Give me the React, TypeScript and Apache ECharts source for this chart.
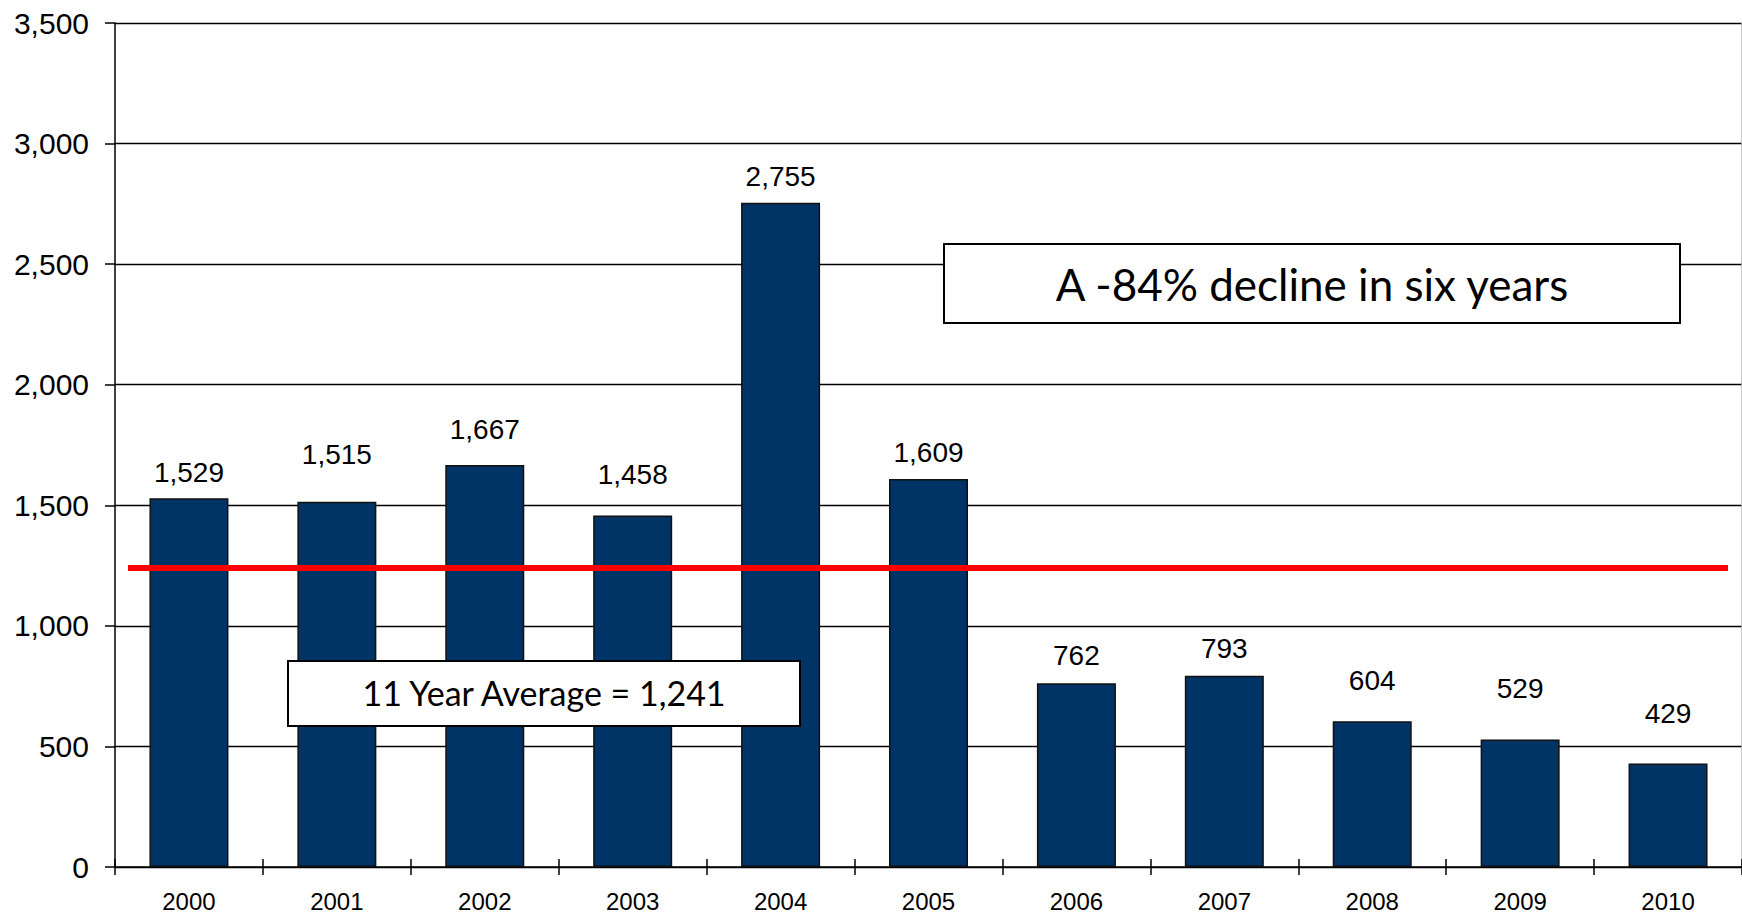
import React, { useEffect, useRef } from "react";
import * as echarts from "echarts";

const years = ["2000", "2001", "2002", "2003", "2004", "2005", "2006", "2007", "2008", "2009", "2010"];
const counts = [1529, 1515, 1667, 1458, 2755, 1609, 762, 793, 604, 529, 429];
const average = 1241;
const labelLift = [12, 33, 22, 27, 12, 13, 14, 13, 27, 37, 36];
const yTicks = { min: 0, max: 3500, interval: 500 };
const declineText = "A -84% decline in six years";
const averageText = "11 Year Average = 1,241";

const fmt = (v: number) => v.toLocaleString("en-US");

export default function App() {
  const ref = useRef<HTMLDivElement>(null);
  useEffect(() => {
    if (!ref.current) return;
    const chart = echarts.init(ref.current, null, { renderer: "svg" });
    chart.setOption({
      animation: false,
      backgroundColor: "#ffffff",
      grid: { left: 115, right: 0, top: 23, bottom: 50, containLabel: false },
      xAxis: [
        {
          type: "category",
          data: years,
          position: "bottom",
          axisLine: { show: true, lineStyle: { color: "#000", width: 1.5 } },
          axisTick: { show: true, length: 8, lineStyle: { color: "#000", width: 1.5 } },
          axisLabel: {
            color: "#000",
            fontFamily: "Liberation Sans, Arial, sans-serif",
            fontSize: 24,
            margin: 22,
          },
          splitLine: { show: false },
        },
        {
          type: "category",
          data: years,
          position: "bottom",
          axisLine: { show: false },
          axisTick: { show: true, inside: true, length: 8, lineStyle: { color: "#000", width: 1.5 } },
          axisLabel: { show: false },
          splitLine: { show: false },
        },
      ],
      yAxis: [
        {
          type: "value",
          min: yTicks.min,
          max: yTicks.max,
          interval: yTicks.interval,
          axisLine: { show: true, lineStyle: { color: "#000", width: 1.5 } },
          axisTick: { show: true, length: 10, lineStyle: { color: "#000", width: 1.5 } },
          axisLabel: {
            color: "#000",
            fontFamily: "Liberation Sans, Arial, sans-serif",
            fontSize: 30,
            margin: 26,
            formatter: (v: number) => fmt(v),
          },
          splitLine: { show: true, lineStyle: { color: "#000", width: 1.4 } },
        },
        {
          type: "value",
          position: "right",
          min: yTicks.min,
          max: yTicks.max,
          interval: yTicks.interval,
          axisLine: { show: true, lineStyle: { color: "#bbbbbb", width: 1.5 } },
          axisTick: { show: false },
          axisLabel: { show: false },
          splitLine: { show: false },
        },
      ],
      series: [
        {
          type: "bar",
          xAxisIndex: 0,
          yAxisIndex: 0,
          barWidth: 79,
          data: counts.map((v, i) => ({ value: v, label: { distance: labelLift[i] } })),
          itemStyle: { color: "#003366", borderColor: "#111", borderWidth: 1.5 },
          label: {
            show: true,
            position: "top",
            color: "#000",
            fontFamily: "Liberation Sans, Arial, sans-serif",
            fontSize: 28,
            formatter: (p: any) => fmt(p.value),
          },
          markLine: {
            silent: true,
            symbol: ["none", "none"],
            label: { show: false },
            lineStyle: { color: "#ff0000", width: 6, type: "solid" },
            data: [[{ x: 128, yAxis: average }, { x: 1728, yAxis: average }]],
          },
          z: 2,
        },
      ],
      graphic: [
        {
          type: "rect",
          z: 100,
          shape: { x: 944, y: 244, width: 736, height: 79 },
          style: { fill: "#fff", stroke: "#000", lineWidth: 2 },
        },
        {
          type: "text",
          z: 101,
          x: 1312,
          y: 284,
          style: {
            text: declineText,
            fill: "#000",
            font: "44px Lato, 'Open Sans', sans-serif",
            textAlign: "center",
            textVerticalAlign: "middle",
          },
        },
        {
          type: "rect",
          z: 100,
          shape: { x: 288, y: 661, width: 512, height: 65 },
          style: { fill: "#fff", stroke: "#000", lineWidth: 2 },
        },
        {
          type: "text",
          z: 101,
          x: 544,
          y: 692,
          style: {
            text: averageText,
            fill: "#000",
            font: "34px Lato, 'Open Sans', sans-serif",
            textAlign: "center",
            textVerticalAlign: "middle",
          },
        },
      ],
    });
    return () => chart.dispose();
  }, []);
  return (
    <div
      ref={ref}
      style={{ position: "fixed", left: 0, top: 0, width: 1742, height: 917, background: "#fff" }}
    />
  );
}
